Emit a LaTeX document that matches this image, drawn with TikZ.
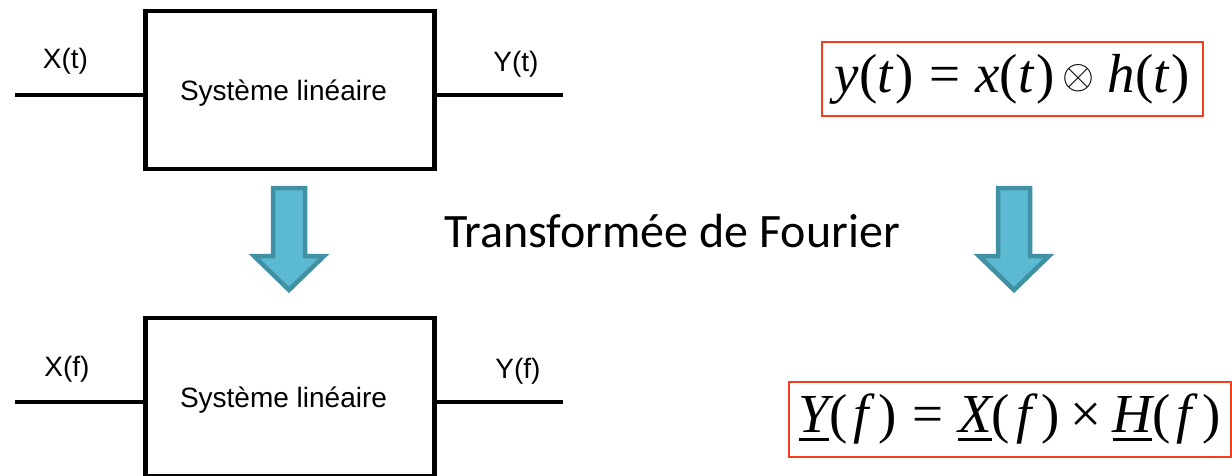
\documentclass[tikz,border=0pt]{standalone}
\usepackage{graphicx}
\usepackage{fontspec}
\setmainfont{Liberation Sans}
\newfontfamily\calfont{Carlito}
\newfontfamily\eqfont{Liberation Serif}
\definecolor{eqred}{RGB}{250,60,30}
\definecolor{arrowfill}{RGB}{92,185,210}
\definecolor{arrowedge}{RGB}{64,145,163}
\newcommand\vi[1]{{\itshape #1}}
\newcommand\myul[1]{\setbox0\hbox{#1}\rlap{\rule[-8pt]{\wd0}{2.5pt}}\box0}
\newcommand\myotimes{\raisebox{3.5pt}{\resizebox{32pt}{!}{\normalsize$\otimes$}}}
\begin{document}
\begin{tikzpicture}[x=1pt,y=-1pt,
  sysbox/.style={draw,line width=4.7pt,minimum width=289pt,minimum height=158pt,inner sep=0pt,text depth=0pt,font=\fontsize{28}{34}\selectfont},
  wire/.style={line width=4.7pt},
  sig/.style={anchor=base,inner sep=0pt,font=\fontsize{28}{34}\selectfont},
  eqbox/.style={draw=eqred,line width=2pt,inner sep=0pt,text height=37pt,text depth=11pt,font=\eqfont\fontsize{55}{66}\selectfont},
  bigarrow/.style={fill=arrowfill,draw=arrowedge,line width=4.5pt,line join=miter}]
\useasboundingbox (0,0) rectangle (1232,475);
\clip (0,0) rectangle (1232,475);
% top system
\node[sysbox] (sys1) at (290,90) {Système linéaire\hspace*{13pt}};
\coordinate (in1) at (15,95);
\coordinate (out1) at (563,95);
\draw[wire] (in1) -- (in1 -| sys1.west);
\draw[wire] (sys1.east |- out1) -- (out1);
\node[sig] (xt) at (65.5,68) {X(t)};
\node[sig] (yt) at (516,71) {Y(t)};
% bottom system
\node[sysbox] (sys2) at (290,397) {Système linéaire\hspace*{13pt}};
\coordinate (in2) at (15,402);
\coordinate (out2) at (563,402);
\draw[wire] (in2) -- (in2 -| sys2.west);
\draw[wire] (sys2.east |- out2) -- (out2);
\node[sig] (xf) at (67,376) {X(f)};
\node[sig] (yf) at (518,378) {Y(f)};
% arrows
\foreach \cx in {289,1014}{
  \draw[bigarrow] (\cx-16,188) -- (\cx+16,188) -- (\cx+16,256) -- (\cx+35,256) -- (\cx,290) -- (\cx-35,256) -- (\cx-16,256) -- cycle;
}
\node[anchor=base,inner sep=0pt,font=\calfont\fontsize{48}{58}\selectfont] (ft) at (672,247) {Transformée de Fourier};
% equations
\node[eqbox,minimum width=381pt,minimum height=74pt] (eq1) at (1012.5,79)
  {\vi{y}(\vi{t}\kern3pt)\kern15pt=\kern15pt\vi{x}(\vi{t}\kern3pt)\kern8pt\myotimes\kern13pt\vi{h}(\vi{t}\kern3pt)};
\node[eqbox,minimum width=442pt,minimum height=75pt] (eq2) at (1009.5,419.5)
  {\myul{\vi{Y}}(\kern6pt\vi{f}\kern10pt)\kern15pt=\kern15pt\myul{\vi{X}}(\kern6pt\vi{f}\kern10pt)\kern11pt×\kern11pt\myul{\vi{H}}(\kern6pt\vi{f}\kern10pt)};
\end{tikzpicture}
\end{document}
